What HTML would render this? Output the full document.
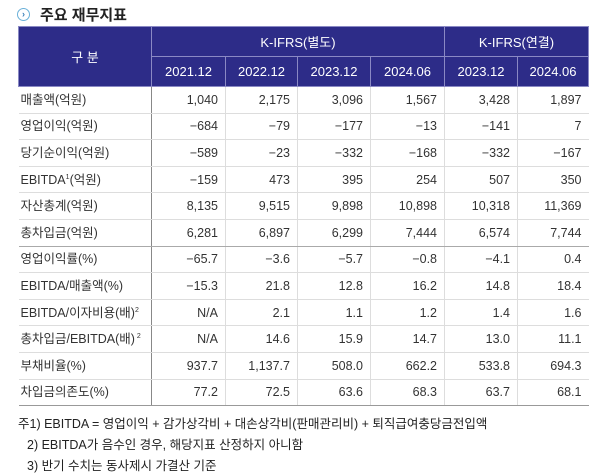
<!DOCTYPE html>
<html><head><meta charset="utf-8"><style>
body{margin:0;width:600px;height:471px;background:#fff;font-family:"Liberation Sans","Noto Sans CJK KR",sans-serif;color:#333;overflow:hidden;position:relative}
#title{position:absolute;left:18px;top:4px;font-size:15px;font-weight:bold;color:#222;display:flex;align-items:center}
#title .ic{width:11px;height:11px;border:1.5px solid #6ab0d8;border-radius:50%;margin-right:10px;font-size:9px;line-height:11px;text-align:center;color:#3a7fb8;margin-left:-1px}
table{position:absolute;left:18px;top:26px;border-collapse:collapse;table-layout:fixed;font-size:12.5px}
th{background:#2d2c88;color:#fff;font-weight:normal;border:1px solid #8a89c4;height:29px;padding:0;font-size:13px}
td{height:25.6px;border-bottom:1px solid #ddd;padding:0 7px 0 0;text-align:right;border-left:1px solid #ddd;line-height:14px}
td.l{text-align:left;padding-left:2px;border-left:none;border-right:1.5px solid #888}
tr.sep td{border-bottom:1.5px solid #aaa}
tr.last td{border-bottom:1.5px solid #999}
sup{font-size:7px;line-height:0;vertical-align:5px}
.note{position:absolute;left:18px;font-size:12.5px;color:#222}
</style></head><body>
<div id="title"><span class="ic">›</span>주요 재무지표</div>
<table>
<colgroup><col style="width:133px"><col style="width:74px"><col style="width:72px"><col style="width:73px"><col style="width:74px"><col style="width:73px"><col style="width:71px"></colgroup>
<tr><th rowspan="2">구 분</th><th colspan="4">K-IFRS(별도)</th><th colspan="2">K-IFRS(연결)</th></tr>
<tr><th>2021.12</th><th>2022.12</th><th>2023.12</th><th>2024.06</th><th>2023.12</th><th>2024.06</th></tr>
<tr><td class="l">매출액(억원)</td><td>1,040</td><td>2,175</td><td>3,096</td><td>1,567</td><td>3,428</td><td>1,897</td></tr>
<tr><td class="l">영업이익(억원)</td><td>−684</td><td>−79</td><td>−177</td><td>−13</td><td>−141</td><td>7</td></tr>
<tr><td class="l">당기순이익(억원)</td><td>−589</td><td>−23</td><td>−332</td><td>−168</td><td>−332</td><td>−167</td></tr>
<tr><td class="l">EBITDA<sup>1</sup>(억원)</td><td>−159</td><td>473</td><td>395</td><td>254</td><td>507</td><td>350</td></tr>
<tr><td class="l">자산총계(억원)</td><td>8,135</td><td>9,515</td><td>9,898</td><td>10,898</td><td>10,318</td><td>11,369</td></tr>
<tr class="sep"><td class="l">총차입금(억원)</td><td>6,281</td><td>6,897</td><td>6,299</td><td>7,444</td><td>6,574</td><td>7,744</td></tr>
<tr><td class="l">영업이익률(%)</td><td>−65.7</td><td>−3.6</td><td>−5.7</td><td>−0.8</td><td>−4.1</td><td>0.4</td></tr>
<tr><td class="l">EBITDA/매출액(%)</td><td>−15.3</td><td>21.8</td><td>12.8</td><td>16.2</td><td>14.8</td><td>18.4</td></tr>
<tr><td class="l">EBITDA/이자비용(배)<sup>2</sup></td><td>N/A</td><td>2.1</td><td>1.1</td><td>1.2</td><td>1.4</td><td>1.6</td></tr>
<tr><td class="l">총차입금/EBITDA(배)<sup> 2</sup></td><td>N/A</td><td>14.6</td><td>15.9</td><td>14.7</td><td>13.0</td><td>11.1</td></tr>
<tr><td class="l">부채비율(%)</td><td>937.7</td><td>1,137.7</td><td>508.0</td><td>662.2</td><td>533.8</td><td>694.3</td></tr>
<tr class="last"><td class="l">차입금의존도(%)</td><td>77.2</td><td>72.5</td><td>63.6</td><td>68.3</td><td>63.7</td><td>68.1</td></tr>
</table>
<div class="note" style="top:413px">주1) EBITDA = 영업이익 + 감가상각비 + 대손상각비(판매관리비) + 퇴직급여충당금전입액</div>
<div class="note" style="top:434px;left:27px">2) EBITDA가 음수인 경우, 해당지표 산정하지 아니함</div>
<div class="note" style="top:455px;left:27px">3) 반기 수치는 동사제시 가결산 기준</div>
</body></html>
